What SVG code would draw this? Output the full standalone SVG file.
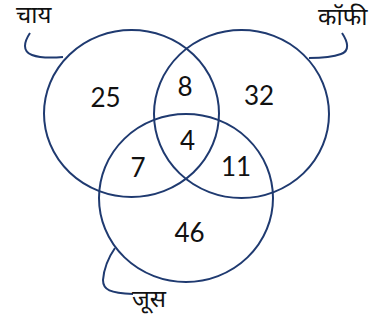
<svg xmlns="http://www.w3.org/2000/svg" width="374" height="320" viewBox="0 0 374 320">
<style>
.set{fill:none;stroke:#1f3a70;stroke-width:2}
.conn{fill:none;stroke:#1f3a70;stroke-width:2}
.num{font-family:Lato,"Open Sans",sans-serif;font-size:26px;fill:#111;text-anchor:middle}
.lbl{font-family:"Noto Sans Devanagari","Noto Sans","DejaVu Sans",sans-serif;font-size:24px;fill:#111}
</style>
<rect width="374" height="320" fill="#fff"/>
<g id="connectors">
<path class="conn" d="M30,33 C24,42 22,51 32,55 C40,58 52,58 63,57"/>
<path class="conn" d="M342,33 C348,42 350,51 341,54 C333,57 320,58 309,58"/>
<path class="conn" d="M115,248 C108,258 104,268 103,280 C103,290 110,293 133,294"/>
</g>
<g id="chai">
<ellipse class="set" cx="131.5" cy="113.5" rx="87.5" ry="83.5"/>
<text class="lbl" x="16" y="23">चाय</text>
</g>
<g id="coffee">
<ellipse class="set" cx="241.5" cy="114" rx="87.5" ry="84"/>
<text class="lbl" x="318" y="25">कॉफी</text>
</g>
<g id="juice">
<ellipse class="set" cx="186" cy="198" rx="87" ry="84"/>
<text class="lbl" x="132" y="307" font-size="25">जूस</text>
</g>
<g id="regions">
<text class="num" x="105.5" y="107">25</text>
<text class="num" x="185" y="96">8</text>
<text class="num" x="259" y="105">32</text>
<text class="num" x="187.5" y="150">4</text>
<text class="num" x="138" y="177">7</text>
<text class="num" x="236" y="176">11</text>
<text class="num" x="189.5" y="242">46</text>
</g>
</svg>
